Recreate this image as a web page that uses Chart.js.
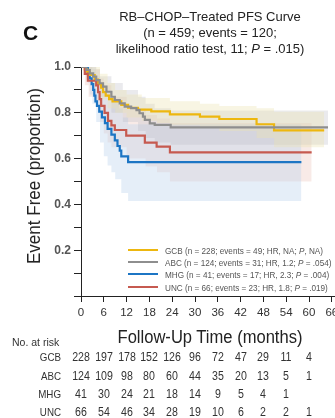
<!DOCTYPE html>
<html><head><meta charset="utf-8">
<script src="https://cdn.jsdelivr.net/npm/chart.js@4/dist/chart.umd.min.js"></script>
<style>
html,body{margin:0;padding:0;width:335px;height:418px;overflow:hidden;background:#fff;}
#wrap{position:relative;width:335px;height:418px;overflow:hidden;}
canvas{position:absolute;left:0;top:0;}
.t{position:absolute;white-space:nowrap;font-family:"Liberation Sans",Arial,sans-serif;color:#222;}
.lg{position:absolute;left:128px;width:30px;height:2px;}
.lgt{position:absolute;left:165px;font-size:9.5px;color:#555;transform:translateY(-50%) scaleX(0.86);transform-origin:0 50%;white-space:nowrap;font-family:"Liberation Sans",Arial,sans-serif;}
.ar{position:absolute;font-size:12.5px;color:#333;transform:translate(-50%,-50%) scaleX(0.85);white-space:nowrap;font-family:"Liberation Sans",Arial,sans-serif;}
.arl{position:absolute;font-size:11.5px;color:#333;transform:translate(-100%,-50%) scaleX(0.85);transform-origin:100% 50%;white-space:nowrap;font-family:"Liberation Sans",Arial,sans-serif;}
</style></head>
<body><div id="wrap">
<canvas id="c" width="345" height="330"></canvas>
<div class="t" style="left:23px;top:21px;font:bold 21px 'Liberation Sans',Arial,sans-serif;color:#111;">C</div>
<div class="t" style="left:210px;top:9px;transform:translateX(-50%);text-align:center;font-size:13px;line-height:16px;">RB–CHOP–Treated PFS Curve<br>(n = 459; events = 120;<br>likelihood ratio test, 11; <i>P</i> = .015)</div>
<div class="t" style="left:34px;top:176px;transform:translate(-50%,-50%) rotate(-90deg) scaleX(0.92);font-size:18.5px;">Event Free (proportion)</div>
<div class="t" style="left:210px;top:337px;transform:translate(-50%,-50%) scaleX(0.92);font-size:18px;">Follow-Up Time (months)</div>
<div class="t" style="left:12px;top:342px;transform:translateY(-50%);font-size:10.5px;color:#333;">No. at risk</div>
<div id="legend"></div>
<div id="risk"></div>
</div>
<script>
// ---- data ----
const groups = ['GCB', 'ABC', 'MHG', 'UNC'];
const colors = ['#EDB70F', '#8E8E8E', '#1C75C4', '#C65A50'];
const bandColors = ['rgba(236,226,175,0.35)', 'rgba(185,185,195,0.30)', 'rgba(190,212,238,0.40)', 'rgba(232,185,175,0.30)'];
const legendText = [
  'GCB (n = 228; events = 49; HR, NA; <i>P</i>, NA)',
  'ABC (n = 124; events = 31; HR, 1.2; <i>P</i> = .054)',
  'MHG (n = 41; events = 17; HR, 2.3; <i>P</i> = .004)',
  'UNC (n = 66; events = 23; HR, 1.8; <i>P</i> = .019)'
];
// survival curves [month, proportion]
const gcbCurve = [[0,1],[1.0,0.99],[1.6,0.98],[2.3,0.965],[3.6,0.945],[4.5,0.925],[5.3,0.91],[5.8,0.89],[6.5,0.875],[7.4,0.86],[8.3,0.85],[10.6,0.835],[12.4,0.822],[15.0,0.814],[18.5,0.806],[23.4,0.793],[31.3,0.783],[36.4,0.773],[46.2,0.75],[50.8,0.723],[64,0.723]];
const abcCurve = [[0,1],[1.4,0.987],[2.3,0.972],[3.2,0.958],[4.0,0.943],[4.9,0.929],[5.8,0.914],[6.7,0.892],[8.0,0.87],[8.9,0.856],[10.2,0.841],[11.5,0.827],[13.2,0.82],[14.6,0.812],[15.4,0.798],[16.3,0.783],[16.8,0.769],[18.1,0.754],[19.4,0.747],[23.6,0.736],[65,0.736]];
const mhgCurve = [[0,1],[1.8,0.975],[2.3,0.95],[2.8,0.925],[3.2,0.90],[3.5,0.875],[3.8,0.85],[4.2,0.83],[4.8,0.805],[5.5,0.78],[6.3,0.755],[7.0,0.73],[8.0,0.705],[8.9,0.68],[9.6,0.655],[10.2,0.635],[10.6,0.61],[12.4,0.585],[58,0.585]];
const uncCurve = [[0,1],[1.0,0.97],[1.8,0.94],[4.0,0.92],[4.5,0.89],[4.9,0.86],[5.3,0.83],[6.2,0.80],[7.1,0.765],[8.0,0.745],[8.9,0.725],[11.9,0.70],[16.8,0.67],[19.9,0.652],[23.4,0.627],[60.7,0.627]];
// confidence bands
const gcbUpper = [[0,1],[3,1],[5,0.97],[7,0.93],[9,0.9],[12,0.88],[16,0.865],[23.4,0.85],[31.3,0.84],[36.4,0.83],[46.2,0.82],[50.8,0.805],[64,0.805]];
const gcbLower = [[0,1],[1.5,0.96],[3,0.92],[5,0.86],[7,0.82],[9,0.8],[12,0.78],[16,0.765],[20,0.755],[23.4,0.745],[31.3,0.735],[36.4,0.72],[46.2,0.69],[50.8,0.65],[64,0.65]];
const abcUpper = [[0,1],[3,0.99],[5,0.96],[8,0.93],[11,0.9],[15,0.87],[17,0.84],[19.4,0.82],[23.6,0.81],[65,0.81]];
const abcLower = [[0,1],[1.5,0.96],[3,0.92],[5,0.87],[8,0.8],[11,0.76],[15,0.72],[17,0.69],[19.4,0.67],[23.6,0.66],[65,0.66]];
const mhgUpper = [[0,1],[3,1],[4,0.96],[5,0.93],[6,0.9],[8,0.86],[10,0.82],[11,0.78],[12.4,0.75],[58,0.75]];
const mhgLower = [[0,1],[1.8,0.93],[2.3,0.88],[3,0.84],[4,0.76],[5,0.67],[6,0.61],[7,0.57],[8,0.54],[9,0.51],[10.6,0.45],[12.4,0.415],[58,0.415]];
const uncUpper = [[0,1],[2,1],[4,0.99],[5,0.95],[6,0.92],[8,0.87],[12,0.82],[17,0.79],[20,0.775],[23.4,0.755],[60.7,0.755]];
const uncLower = [[0,1],[1,0.92],[2,0.87],[4,0.84],[4.5,0.80],[5,0.76],[6,0.71],[7,0.67],[8,0.65],[12,0.6],[17,0.565],[20,0.54],[23.4,0.5],[60.7,0.5]];
// tick labels / at-risk
const xTicks = [0,6,12,18,24,30,36,42,48,54,60,66];
const yTickLabels = ['0.2','0.4','0.6','0.8','1.0'];
const riskTimes = [0,6,12,18,24,30,36,42,48,54,60];
const gcbRisk = [228,197,178,152,126,96,72,47,29,11,4];
const abcRisk = [124,109,98,80,60,44,35,20,13,5,1];
const mhgRisk = [41,30,24,21,18,14,9,5,4,1];
const uncRisk = [66,54,46,34,28,19,10,6,2,2,1];

// ---- build ----
const curves = [gcbCurve, abcCurve, mhgCurve, uncCurve];
const uppers = [gcbUpper, abcUpper, mhgUpper, uncUpper];
const lowers = [gcbLower, abcLower, mhgLower, uncLower];
const risks = [gcbRisk, abcRisk, mhgRisk, uncRisk];
const toXY = a => a.map(p => ({x: p[0], y: p[1]}));
const datasets = [];
groups.forEach((g, i) => {
  datasets.push({label: g + ' upper', data: toXY(uppers[i]), stepped: true, borderWidth: 0, pointRadius: 0, fill: '+1', backgroundColor: bandColors[i], borderColor: 'transparent', order: 5});
  datasets.push({label: g + ' lower', data: toXY(lowers[i]), stepped: true, borderWidth: 0, pointRadius: 0, fill: false, borderColor: 'transparent', order: 5});
});
[1, 3, 0, 2].forEach(i => {
  datasets.push({label: groups[i], data: toXY(curves[i]), stepped: true, borderWidth: 2.2, pointRadius: 0, fill: false, borderColor: colors[i], order: 0});
});

const chart = new Chart(document.getElementById('c'), {
  type: 'line',
  data: {datasets},
  options: {
    responsive: false, animation: false, devicePixelRatio: 1,
    layout: {padding: {top: 67, right: 9.4, left: 0, bottom: 0}},
    plugins: {legend: {display: false}, tooltip: {enabled: false}},
    scales: {
      x: {
        type: 'linear', min: 0, max: 67,
        afterFit(s) { s.height = 34; },
        afterBuildTicks(s) { s.ticks = xTicks.map(v => ({value: v})); },
        border: {display: true, color: '#222', width: 1},
        grid: {display: true, drawOnChartArea: false, drawTicks: true, tickLength: 6, color: '#222'},
        ticks: {autoSkip: false, maxRotation: 0, padding: 4, color: '#333', font: {family: "'Liberation Sans'", size: 11.5}}
      },
      y: {
        min: 0, max: 1,
        afterFit(s) { s.width = 81; },
        border: {display: true, color: '#222', width: 1},
        grid: {display: true, drawOnChartArea: false, drawTicks: true, tickLength: 7, color: '#222'},
        ticks: {
          stepSize: 0.1, includeBounds: false, padding: 3, color: '#555',
          font: {family: "'Liberation Sans'", size: 12, weight: 'bold'},
          callback(v) { const k = Math.round(v * 10); return (k > 0 && k % 2 === 0) ? yTickLabels[k / 2 - 1] : ''; }
        }
      }
    }
  }
});

// legend
const legendY = [250, 262, 274, 286.5];
const lg = document.getElementById('legend');
groups.forEach((g, i) => {
  const l = document.createElement('div'); l.className = 'lg';
  l.style.top = (legendY[i] - 1) + 'px'; l.style.background = colors[i]; lg.appendChild(l);
  const t = document.createElement('div'); t.className = 'lgt';
  t.style.top = legendY[i] + 'px'; t.innerHTML = legendText[i]; lg.appendChild(t);
});
// at-risk table
const rowY = [357, 376, 394, 412];
const rk = document.getElementById('risk');
groups.forEach((g, i) => {
  const l = document.createElement('div'); l.className = 'arl';
  l.style.left = '61px'; l.style.top = rowY[i] + 'px'; l.textContent = g; rk.appendChild(l);
  risks[i].forEach((n, j) => {
    const d = document.createElement('div'); d.className = 'ar';
    d.style.left = chart.scales.x.getPixelForValue(riskTimes[j]) + 'px';
    d.style.top = rowY[i] + 'px'; d.textContent = n; rk.appendChild(d);
  });
});
</script>
</body></html>
